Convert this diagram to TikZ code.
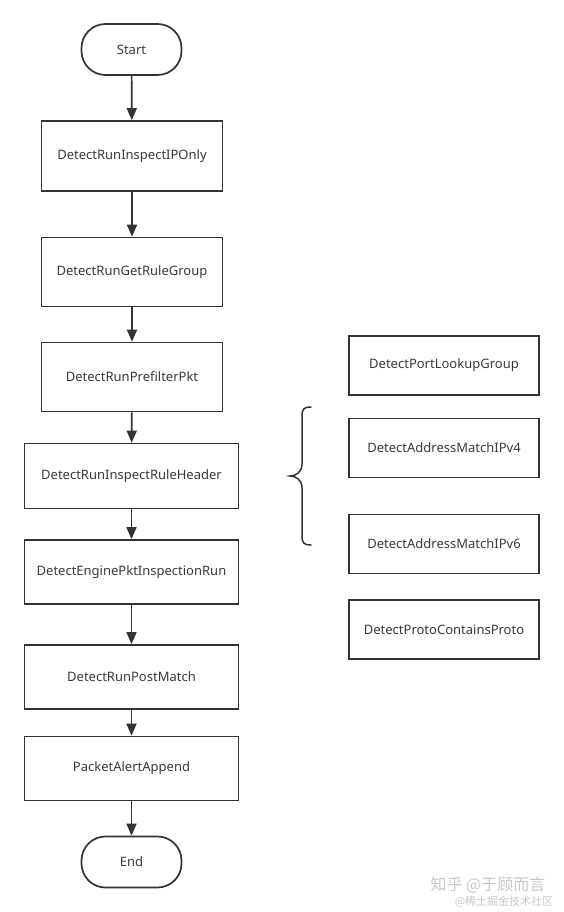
\documentclass[tikz,border=0pt]{standalone}
\usepackage{fontspec}
\setmainfont{Noto Sans}
\newfontfamily\cjk{Noto Sans CJK SC}
\usetikzlibrary{arrows.meta}
\definecolor{ink}{HTML}{333333}
\definecolor{txt}{HTML}{3A3A3A}
\definecolor{wm}{HTML}{C8C8C8}
\begin{document}
\begin{tikzpicture}[x=1pt,y=-1pt,
  base/.style={draw=ink, line width=1.7pt, text=txt, font=\fontsize{13}{15}\selectfont, inner sep=0pt, anchor=center},
  procbox/.style={base, rectangle},
  termbox/.style={base, rectangle, rounded corners=24pt, minimum width=100pt, minimum height=51pt},
  flow/.style={draw=ink, line width=1.7pt, -{Triangle[length=12pt,width=10pt]}},
  brace/.style={draw=ink, line width=1.5pt, line cap=round}
]
\fill[white] (0,0) rectangle (563,912);
\useasboundingbox (0,0) rectangle (563,912);

% main column
\node[termbox] (start) at (131.5,49.5) {Start};
\node[procbox, minimum width=181pt, minimum height=70pt] (b1) at (132,156) {DetectRunInspectIPOnly};
\node[procbox, minimum width=181pt, minimum height=69pt] (b2) at (132,272) {DetectRunGetRuleGroup};
\node[procbox, minimum width=181pt, minimum height=69pt] (b3) at (132,377) {DetectRunPrefilterPkt};
\node[procbox, minimum width=214pt, minimum height=65pt] (b4) at (131.5,476) {DetectRunInspectRuleHeader};
\node[procbox, minimum width=214pt, minimum height=64pt] (b5) at (131.5,572) {DetectEnginePktInspectionRun};
\node[procbox, minimum width=214pt, minimum height=64pt] (b6) at (131.5,677) {DetectRunPostMatch};
\node[procbox, minimum width=214pt, minimum height=64pt] (b7) at (131.5,768.5) {PacketAlertAppend};
\node[termbox] (end) at (131.5,862) {End};

\draw[flow] (start) -- (b1);
\draw[flow] (b1) -- (b2);
\draw[flow] (b2) -- (b3);
\draw[flow] (b3) -- (b4);
\draw[flow] (b4) -- (b5);
\draw[flow] (b5) -- (b6);
\draw[flow] (b6) -- (b7);
\draw[flow] (b7) -- (end);

% right column
\node[procbox, minimum width=190pt, minimum height=59pt] (r1) at (444,365.5) {DetectPortLookupGroup};
\node[procbox, minimum width=190pt, minimum height=59pt] (r2) at (444,448) {DetectAddressMatchIPv4};
\node[procbox, minimum width=190pt, minimum height=59pt] (r3) at (444,544) {DetectAddressMatchIPv6};
\node[procbox, minimum width=190pt, minimum height=59pt] (r4) at (444,629.5) {DetectProtoContainsProto};

% brace
\coordinate (bt) at (311,407);
\coordinate (bb) at (311,545);
\coordinate (tip) at (290,476);
\draw[brace] (bt) .. controls (304,407) and (302,409) .. (302,416)
  -- (302,464) .. controls (302,472) and (296,476) .. (tip)
  .. controls (296,476) and (302,480) .. (302,488)
  -- (302,536) .. controls (302,543) and (304,545) .. (bb);

% watermark
\node[text=wm, font=\cjk\fontsize{16}{18}\selectfont, anchor=center] (wm1) at (488,885) {知乎 @于顾而言};
\node[text=wm, font=\cjk\fontsize{11}{13}\selectfont, anchor=center] (wm2) at (504,902) {@稀土掘金技术社区};
\end{tikzpicture}
\end{document}
